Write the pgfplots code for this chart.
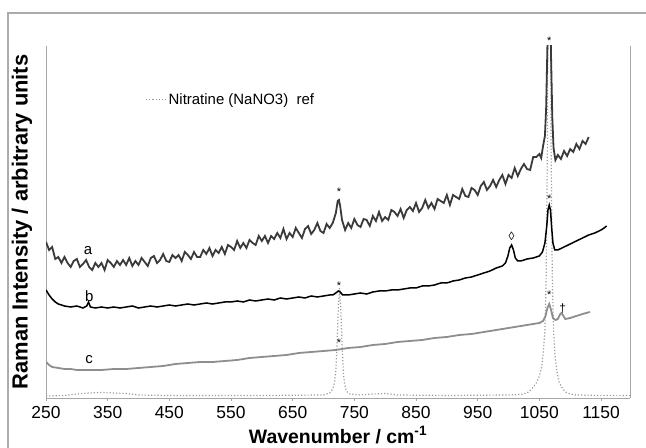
\documentclass[border=0pt]{standalone}
\usepackage{pgfplots}
\pgfplotsset{compat=1.18}
\usepackage{fontspec}
\setmainfont{Liberation Sans}
\definecolor{cA}{HTML}{3A3A3A}
\definecolor{cC}{HTML}{8E8E8E}
\definecolor{cN}{HTML}{9A9A9A}
\definecolor{cAx}{HTML}{A6A6A6}
\begin{document}
\begin{tikzpicture}[x=1bp,y=1bp]
\useasboundingbox (0,0) rectangle (646,448);
\draw[color=black!33, line width=1.2bp] (8,-5) -- (8,435) -- (660,435);
\begin{axis}[name=ax, at={(46bp,50bp)}, anchor=south west, scale only axis,
  width=584bp, height=352bp, xmin=250, xmax=1197, ymin=0, ymax=352,
  axis lines=left, axis line style={-, color=cAx, line width=0.9bp},
  ytick=\empty, xtick={250,350,...,1150}, tick align=outside,
  major tick length=3bp, tick style={color=cAx, line width=0.8bp},
  xticklabel style={font=\fontsize{17.5}{19}\selectfont, yshift=-2bp},
  /pgf/number format/assume math mode=true,
  /pgf/number format/set thousands separator={},
  clip mode=individual,
  legend style={draw=none, fill=none, at={(rel axis cs:0.17,0.847)}, anchor=west, inner sep=0pt, font=\fontsize{15}{17}\selectfont},
  legend image code/.code={\draw[#1] (0bp,0bp) -- (20bp,0bp);},
]
% Nitratine reference
\addplot[color=cN, dotted, line width=1.2bp] coordinates {
(250,2) (280,2.5) (300,4) (320,5) (340,5.5) (360,5) (380,4.5) (400,3) (450,2.5) (500,2.5) (600,2.5) (700,3)
(710,5) (715,9) (718,16) (720,28) (722,55) (724,90) (726,110) (728,90) (730,55) (732,28) (734,14) (737,7) (742,4)
(760,3) (780,4) (800,4.5) (820,3) (900,2.5) (1000,3) (1020,3.5)
(1030,5) (1036,8) (1040,11) (1045,15) (1050,22) (1054,32) (1057,50) (1059,68) (1061,120) (1063,250) (1065,600)
(1067,600) (1069,250) (1071,120) (1073,68) (1075,45) (1078,28) (1082,16) (1086,11) (1092,6) (1100,4) (1110,3)
(1150,2.5) (1197,2.5)
};
\addlegendentry{Nitratine (NaNO3)\ \ ref}
% c
\addplot[forget plot, color=cC, line width=1.8bp] coordinates {
(250,36) (255,33) (260,31) (270,30) (280,29) (290,29) (300,28) (320,28) (340,28) (360,29) (380,29) (400,30)
(420,31) (440,32) (460,34) (480,35) (500,36) (520,36) (540,37) (560,38) (580,40) (600,41) (620,42) (640,43)
(660,45) (680,46) (700,47) (720,48) (740,50) (760,51) (780,53) (800,54) (820,56) (840,57) (860,58) (880,60)
(900,61) (920,63) (940,64) (960,66) (980,68) (1000,70) (1020,72) (1040,74) (1050,75) (1056,77) (1060,82)
(1063,90) (1066,94) (1069,88) (1072,80) (1076,78) (1080,79) (1084,84) (1086,85) (1088,83) (1092,79) (1100,80)
(1110,82) (1120,84) (1132,86)
};
% b
\addplot[forget plot, color=black, line width=1.5bp] coordinates {
(250,108) (255,103) (260,99) (265,96) (270,94) (280,92) (290,91) (300,92) (310,90) (316,92) (319,96) (322,91)
(330,90) (340,91) (350,90) (360,91) (370,90) (380,91) (390,92) (400,90) (410,91) (420,92) (430,91) (440,92)
(450,93) (460,92) (470,93) (480,94) (490,93) (500,94) (510,95) (520,94) (530,95) (540,96) (550,96) (560,97)
(570,96) (580,98) (590,97) (600,98) (610,99) (620,98) (630,100) (640,99) (650,100) (660,101) (670,100)
(680,102) (690,101) (700,102) (710,103) (715,103) (720,105) (724,107) (727,106) (731,103) (740,103) (750,104)
(760,105) (770,104) (780,106) (790,107) (800,107) (810,108) (820,108) (830,109) (840,110) (850,110) (860,112)
(870,112) (880,113) (890,115) (900,115) (910,117) (920,118) (930,120) (940,121) (950,123) (960,125) (970,127)
(980,130) (990,132) (995,135) (999,142) (1002,150) (1005,153) (1008,148) (1011,140) (1015,137) (1020,137)
(1030,139) (1040,140) (1050,142) (1055,146) (1059,155) (1062,172) (1064,188) (1066,193) (1068,188) (1070,170)
(1072,155) (1075,148) (1080,148) (1090,151) (1100,154) (1110,157) (1120,160) (1130,163) (1140,165) (1150,168)
(1155,170) (1159,172)
};
% a
\addplot[forget plot, color=cA, line width=1.8bp] coordinates {
(250,156) (255,148) (260,151) (265,139) (270,141) (275,135) (280,141) (285,135) (290,131) (295,137) (300,139)
(305,131) (310,134) (315,138) (320,131) (325,128) (330,135) (335,131) (340,135) (345,128) (350,138) (355,135)
(360,131) (365,137) (370,133) (375,138) (380,133) (385,140) (390,132) (395,137) (400,133) (405,140) (410,136)
(415,132) (420,140) (425,142) (430,135) (435,138) (440,144) (445,137) (450,136) (455,143) (460,140) (465,143)
(470,137) (475,146) (480,143) (485,139) (490,146) (495,141) (500,141) (505,148) (510,144) (515,150) (520,142)
(525,148) (530,145) (535,151) (540,144) (545,153) (550,151) (555,148) (560,157) (565,150) (570,155) (575,150)
(580,158) (585,155) (590,153) (595,162) (600,157) (605,162) (610,155) (615,162) (620,159) (625,165) (630,160)
(635,169) (640,159) (645,165) (650,161) (655,170) (660,165) (665,160) (670,169) (675,172) (680,164) (685,168)
(690,175) (695,167) (700,165) (705,174) (710,170) (715,175) (720,185) (723,197) (725,198) (727,192) (730,178)
(735,168) (740,175) (745,170) (750,179) (755,173) (760,171) (765,179) (770,178) (775,172) (780,182) (785,177)
(790,186) (795,177) (800,181) (805,178) (810,188) (815,186) (820,182) (825,189) (830,180) (835,188) (840,191)
(845,187) (850,195) (855,186) (860,190) (865,198) (870,190) (875,195) (880,189) (885,199) (890,197) (895,195)
(900,203) (905,193) (910,203) (915,201) (920,199) (925,209) (930,202) (935,201) (940,210) (945,208) (950,203)
(955,212) (960,216) (965,208) (970,212) (975,218) (980,211) (985,218) (990,223) (995,214) (1000,223) (1005,220)
(1010,230) (1015,222) (1020,229) (1025,234) (1030,229) (1035,228) (1040,241) (1045,241) (1050,244) (1053,240)
(1056,252) (1059,262) (1061,290) (1063,350) (1065,420) (1067,420) (1069,340) (1071,280) (1073,250) (1076,238)
(1080,243) (1085,239) (1090,247) (1095,242) (1100,249) (1105,246) (1110,254) (1115,249) (1120,257) (1125,254)
(1130,261)
};
% curve labels
\node[font=\fontsize{15}{17}\selectfont] at (axis cs:318,147) {a};
\node[font=\fontsize{15}{17}\selectfont] at (axis cs:320,102) {b};
\node[font=\fontsize{15}{17}\selectfont] at (axis cs:320,38) {c};
% peak markers
\node[font=\fontsize{11}{12}\selectfont] at (axis cs:725,206) {*};
\node[font=\fontsize{11}{12}\selectfont] at (axis cs:1066,357) {*};
\node[font=\fontsize{11}{12}\selectfont] at (axis cs:725,112) {*};
\node[font=\fontsize{11}{12}\selectfont] at (axis cs:1066,199) {*};
\node[font=\fontsize{11}{12}\selectfont] at (axis cs:725,55) {*};
\node[font=\fontsize{11}{12}\selectfont] at (axis cs:1066,103) {*};
\node[font=\fontsize{12}{13}\selectfont] at (axis cs:1005,162) {◊};
\node[font=\fontsize{12}{13}\selectfont] at (axis cs:1088,89) {†};
\draw[color=cAx, line width=0.9bp] (rel axis cs:1,0) -- (rel axis cs:1,1);
\end{axis}
\node[font=\bfseries\fontsize{19.5}{21}\selectfont] at ([yshift=-37bp]ax.south) {Wavenumber / cm\textsuperscript{-1}};
\node[rotate=90, font=\bfseries\fontsize{22}{24}\selectfont] at ([xshift=-24bp]ax.west) {Raman Intensity / arbitrary units};
\end{tikzpicture}
\end{document}
